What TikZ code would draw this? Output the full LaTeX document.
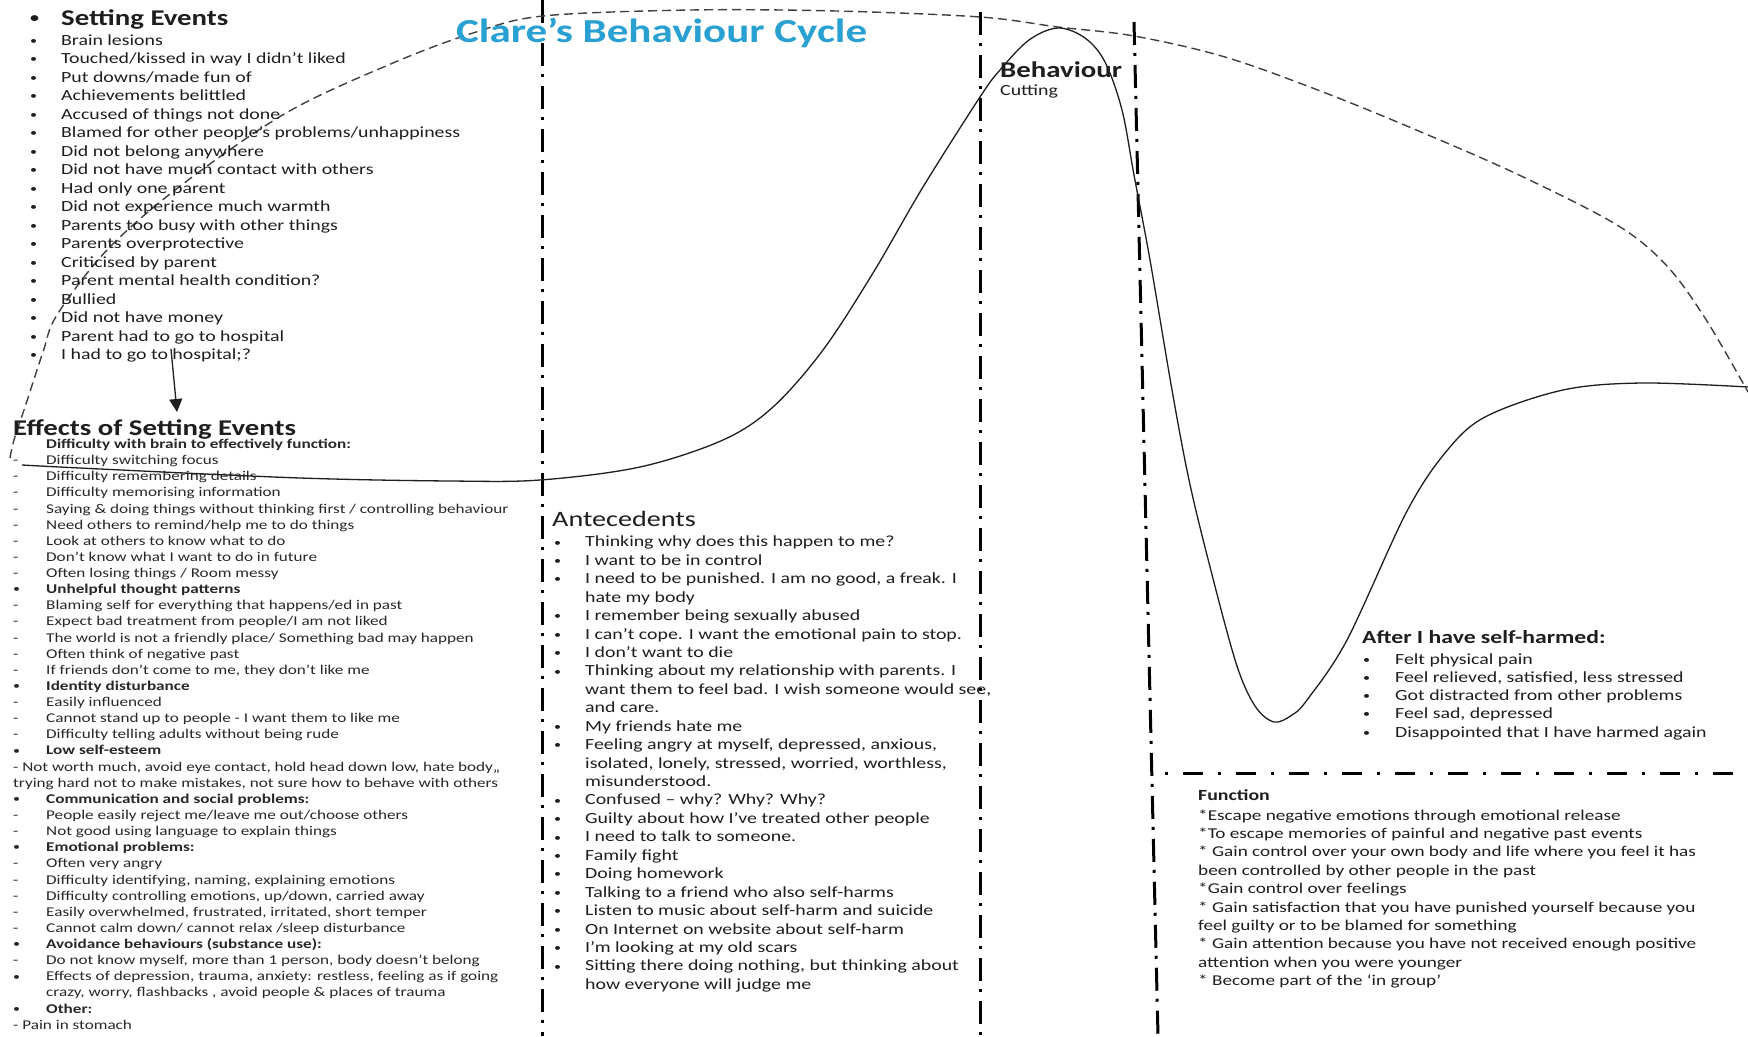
\documentclass[tikz,border=0pt]{standalone}
\usepackage{fontspec}
\setmainfont{Carlito}[FakeStretch=1.28]
\usetikzlibrary{arrows.meta}
\definecolor{ink}{RGB}{30,30,30}
\definecolor{softink}{RGB}{40,40,40}
\definecolor{titleblue}{RGB}{40,160,210}
\newcommand\dotmark{\raisebox{0.8pt}{\fontsize{11}{11}\selectfont •}}
\newcommand\bigdotmark{\raisebox{2pt}{\fontsize{14}{14}\selectfont •}}
\begin{document}
\begin{tikzpicture}[x=1pt,y=-1pt,
  txt/.style={inner sep=0pt, anchor=base west, text=ink, font=\fontsize{15.5}{18}\selectfont},
  small/.style={txt, text=softink, font=\fontsize{13.4}{15}\selectfont},
  head/.style={txt, font=\bfseries\fontsize{22.5}{26}\selectfont},
  divider/.style={line width=3pt, draw=black, dash pattern=on 23pt off 8pt on 3pt off 9pt},
  hdivider/.style={line width=3pt, draw=black, dash pattern=on 3pt off 15pt on 20pt off 15pt},
  mood/.style={line width=1.3pt, draw=ink},
  trend/.style={line width=1.4pt, draw=ink!85, dash pattern=on 9pt off 5pt},
]
\useasboundingbox (0,0) rectangle (1748,1036);
\fill[white] (0,0) rectangle (1748,1036);

% column dividers
\coordinate (d1top) at (542,0);   \coordinate (d1bot) at (542,1036);
\coordinate (d2top) at (980,12);  \coordinate (d2bot) at (980,1036);
\coordinate (d3top) at (1134,22); \coordinate (d3bot) at (1158,1036);
\coordinate (h1left) at (1165,773); \coordinate (h1right) at (1770,773);
\draw[divider] (d1top) -- (d1bot);
\draw[divider] (d2top) -- (d2bot);
\draw[divider] (d3top) -- (d3bot);
\draw[hdivider] (h1left) -- (h1right);

% the dashed arc over the whole cycle
\draw[trend] plot[smooth, tension=0.55] coordinates {
  (10,458) (14,440) (25,407) (43,352) (57,315) (107,250) (179,187) (286,113)
  (393,63) (473,33) (543,16) (691,10) (836,11) (980,17) (1058,27) (1134,36)
  (1225,57) (1323,92) (1421,132) (1519,175) (1617,225) (1666,265) (1705,318) (1748,392)};

% the behaviour curve
\draw[mood] plot[smooth, tension=0.55] coordinates {
  (22,465) (100,469) (300,478) (450,481) (540,480) (640,467) (723,440) (773,407)
  (823,350) (873,273) (923,187) (980,97) (1000,70) (1029,40) (1058,28) (1085,38)
  (1105,62) (1122,110) (1134,175) (1150,260) (1172,390) (1189,480) (1209,563)
  (1236,663) (1255,706) (1274,722) (1292,715) (1307,700) (1347,640) (1406,513)
  (1445,453) (1485,417) (1563,390) (1642,383) (1748,387)};

% title
\node[txt, text=titleblue, font=\bfseries\fontsize{33.6}{36}\selectfont] (title) at (456,42) {Clare’s Behaviour Cycle};

% setting events
\node[head] (se-bul) at (30,25) {\bigdotmark};
\node[head] (se-head) at (61,25) {Setting Events};
\foreach \t [count=\i from 0] in {Brain lesions, Touched/kissed in way I didn’t liked,
  Put downs/made fun of, Achievements belittled, Accused of things not done,
  Blamed for other people’s problems/unhappiness, Did not belong anywhere,
  Did not have much contact with others, Had only one parent,
  Did not experience much warmth, Parents too busy with other things,
  Parents overprotective, Criticised by parent, Parent mental health condition?,
  Bullied, Did not have money, Parent had to go to hospital, I had to go to hospital;?}
{
  \node[txt] (se-b\i) at (30,{45+18.5*\i}) {\dotmark};
  \node[txt] (se-\i) at (61,{45+18.5*\i}) {\t};
}

\coordinate (arrowtop) at (171,349);
\coordinate (arrowtip) at (177,412);
\draw[line width=1.3pt, draw=ink, -{Triangle[width=13pt,length=13pt]}] (arrowtop) -- (arrowtip);

% effects of setting events
\node[head] (ef-head) at (13,435) {Effects of Setting Events};
\foreach \x/\m/\t [count=\i from 0] in {
  46/{}/{\bfseries Difficulty with brain to effectively function:},
  46/-/{Difficulty switching focus},
  46/-/{Difficulty remembering details},
  46/-/{Difficulty memorising information},
  46/-/{Saying \& doing things without thinking first / controlling behaviour},
  46/-/{Need others to remind/help me to do things},
  46/-/{Look at others to know what to do},
  46/-/{Don’t know what I want to do in future},
  46/-/{Often losing things / Room messy},
  46/\dotmark/{\bfseries Unhelpful thought patterns},
  46/-/{Blaming self for everything that happens/ed in past},
  46/-/{Expect bad treatment from people/I am not liked},
  46/-/{The world is not a friendly place/ Something bad may happen},
  46/-/{Often think of negative past},
  46/-/{If friends don’t come to me, they don’t like me},
  46/\dotmark/{\bfseries Identity disturbance},
  46/-/{Easily influenced},
  46/-/{Cannot stand up to people - I want them to like me},
  46/-/{Difficulty telling adults without being rude},
  46/\dotmark/{\bfseries Low self-esteem},
  13/{}/{- Not worth much, avoid eye contact, hold head down low, hate body,,},
  13/{}/{trying hard not to make mistakes, not sure how to behave with others},
  46/\dotmark/{\bfseries Communication and social problems:},
  46/-/{People easily reject me/leave me out/choose others},
  46/-/{Not good using language to explain things},
  46/\dotmark/{\bfseries Emotional problems:},
  46/-/{Often very angry},
  46/-/{Difficulty identifying, naming, explaining emotions},
  46/-/{Difficulty controlling emotions, up/down, carried away},
  46/-/{Easily overwhelmed, frustrated, irritated, short temper},
  46/-/{Cannot calm down/ cannot relax /sleep disturbance},
  46/\dotmark/{\bfseries Avoidance behaviours (substance use):},
  46/-/{Do not know myself, more than 1 person, body doesn’t belong},
  46/\dotmark/{Effects of depression, trauma, anxiety: restless, feeling as if going},
  46/{}/{crazy, worry, flashbacks , avoid people \& places of trauma},
  46/\dotmark/{\bfseries Other:},
  13/{}/{- Pain in stomach}}
{
  \node[small] (efm-\i) at (13,{448.5+16.13*\i}) {\m};
  \node[small] (ef-\i) at (\x,{448.5+16.13*\i}) {\t};
}

% antecedents
\node[txt, font=\fontsize{22}{26}\selectfont] (ant-head) at (552,526) {Antecedents};
\foreach \m/\t [count=\i from 0] in {
  \dotmark/{Thinking why does this happen to me?},
  \dotmark/{I want to be in control},
  \dotmark/{I need to be punished. I am no good, a freak. I},
  {}/{hate my body},
  \dotmark/{I remember being sexually abused},
  \dotmark/{I can’t cope. I want the emotional pain to stop.},
  \dotmark/{I don’t want to die},
  \dotmark/{Thinking about my relationship with parents. I},
  {}/{want them to feel bad. I wish someone would see,},
  {}/{and care.},
  \dotmark/{My friends hate me},
  \dotmark/{Feeling angry at myself, depressed, anxious,},
  {}/{isolated, lonely, stressed, worried, worthless,},
  {}/{misunderstood.},
  \dotmark/{Confused – why? Why? Why?},
  \dotmark/{Guilty about how I’ve treated other people},
  \dotmark/{I need to talk to someone.},
  \dotmark/{Family fight},
  \dotmark/{Doing homework},
  \dotmark/{Talking to a friend who also self-harms},
  \dotmark/{Listen to music about self-harm and suicide},
  \dotmark/{On Internet on website about self-harm},
  \dotmark/{I’m looking at my old scars},
  \dotmark/{Sitting there doing nothing, but thinking about},
  {}/{how everyone will judge me}}
{
  \node[txt] (antm-\i) at (554,{546.8+18.44*\i}) {\m};
  \node[txt] (ant-\i) at (585,{546.8+18.44*\i}) {\t};
}

% behaviour
\node[txt, font=\bfseries\fontsize{22.5}{26}\selectfont] (beh-head) at (1000,77) {Behaviour};
\node[txt] (beh-item) at (1000,95) {Cutting};

% after self-harm
\node[txt, font=\bfseries\fontsize{18.5}{22}\selectfont] (after-head) at (1362,643) {After I have self-harmed:};
\foreach \t [count=\i from 0] in {Felt physical pain, {Feel relieved, satisfied, less stressed},
  Got distracted from other problems, {Feel sad, depressed}, Disappointed that I have harmed again}
{
  \node[txt] (afterm-\i) at (1363,{664+18.25*\i}) {\dotmark};
  \node[txt] (after-\i) at (1395,{664+18.25*\i}) {\t};
}

% function
\node[txt, font=\bfseries\fontsize{15.5}{18}\selectfont] (fn-head) at (1198,800) {Function};
\foreach \t [count=\i from 0] in {
  *Escape negative emotions through emotional release,
  *To escape memories of painful and negative past events,
  * Gain control over your own body and life where you feel it has,
  been controlled by other people in the past,
  *Gain control over feelings,
  * Gain satisfaction that you have punished yourself because you,
  feel guilty or to be blamed for something,
  * Gain attention because you have not received enough positive,
  attention when you were younger,
  * Become part of the ‘in group’}
{
  \node[txt, font=\fontsize{15}{18}\selectfont] (fn-\i) at (1198,{820+18.4*\i}) {\t};
}
\end{tikzpicture}
\end{document}
